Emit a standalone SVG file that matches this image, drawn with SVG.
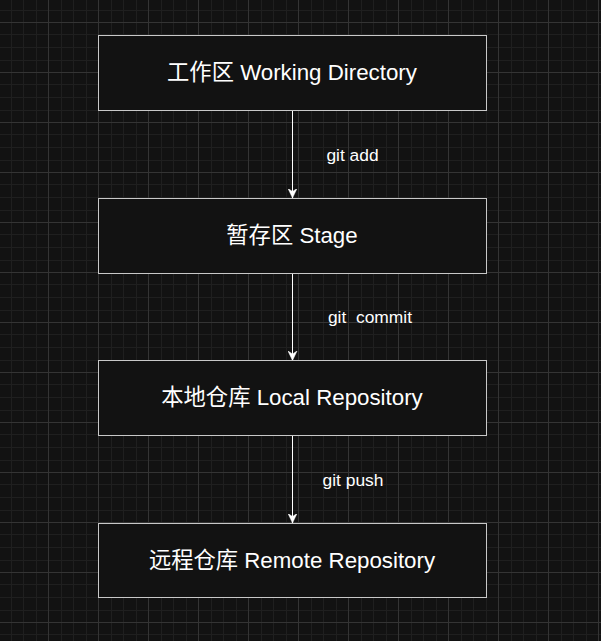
<svg xmlns="http://www.w3.org/2000/svg" width="601" height="641" viewBox="0 0 601 641">
  <defs>
    <pattern id="grid" x="-2" y="22" width="50" height="50" patternUnits="userSpaceOnUse">
      <rect x="13" y="0" width="1" height="50" fill="#1f1f1f"/>
      <rect x="25" y="0" width="1" height="50" fill="#1f1f1f"/>
      <rect x="38" y="0" width="1" height="50" fill="#1f1f1f"/>
      <rect x="0" y="12" width="50" height="1" fill="#1f1f1f"/>
      <rect x="0" y="25" width="50" height="1" fill="#1f1f1f"/>
      <rect x="0" y="38" width="50" height="1" fill="#1f1f1f"/>
      <rect x="0" y="0" width="1" height="50" fill="#343434"/>
      <rect x="0" y="0" width="50" height="1" fill="#343434"/>
    </pattern>
    <marker id="arrow" markerWidth="10" markerHeight="10" refX="9.5" refY="5" orient="auto" markerUnits="userSpaceOnUse">
      <path d="M9.5,5 L0,0.5 L3,5 L0,9.5 Z" fill="#ffffff" stroke="#ffffff" stroke-width="0.5"/>
    </marker>
    <style>
      .box { fill: #121212; stroke: #c8c8c8; stroke-width: 1; }
      .label { font-family: "Liberation Sans", "Noto Sans CJK SC", sans-serif; font-size: 22.3px; fill: #ffffff; text-anchor: middle; }
      .elabel { font-family: "Liberation Sans", "Noto Sans CJK SC", sans-serif; font-size: 17.4px; fill: #ffffff; text-anchor: middle; }
      .edge { stroke: #ffffff; stroke-width: 1; fill: none; }
    </style>
  </defs>
  <rect x="0" y="0" width="601" height="641" fill="#121212"/>
  <rect x="0" y="0" width="601" height="641" fill="url(#grid)"/>

  <g id="connectors">
    <line class="edge" x1="292.5" y1="110.5" x2="292.5" y2="198" marker-end="url(#arrow)"/>
    <text class="elabel" x="352.5" y="160.5">git add</text>
    <line class="edge" x1="292.5" y1="273.5" x2="292.5" y2="360.5" marker-end="url(#arrow)"/>
    <text class="elabel" x="370" y="323" xml:space="preserve">git  commit</text>
    <line class="edge" x1="292.5" y1="435.5" x2="292.5" y2="523" marker-end="url(#arrow)"/>
    <text class="elabel" x="353" y="485.5">git push</text>
  </g>

  <g id="working-directory">
    <rect class="box" x="98.5" y="35.5" width="388" height="75"/>
    <text class="label" x="292" y="80">工作区 Working Directory</text>
  </g>
  <g id="stage">
    <rect class="box" x="98.5" y="198.5" width="388" height="75"/>
    <text class="label" x="292" y="243">暂存区 Stage</text>
  </g>
  <g id="local-repository">
    <rect class="box" x="98.5" y="360.5" width="388" height="75"/>
    <text class="label" x="292" y="405">本地仓库 Local Repository</text>
  </g>
  <g id="remote-repository">
    <rect class="box" x="98.5" y="523.5" width="388" height="74"/>
    <text class="label" x="292" y="568">远程仓库 Remote Repository</text>
  </g>
</svg>
